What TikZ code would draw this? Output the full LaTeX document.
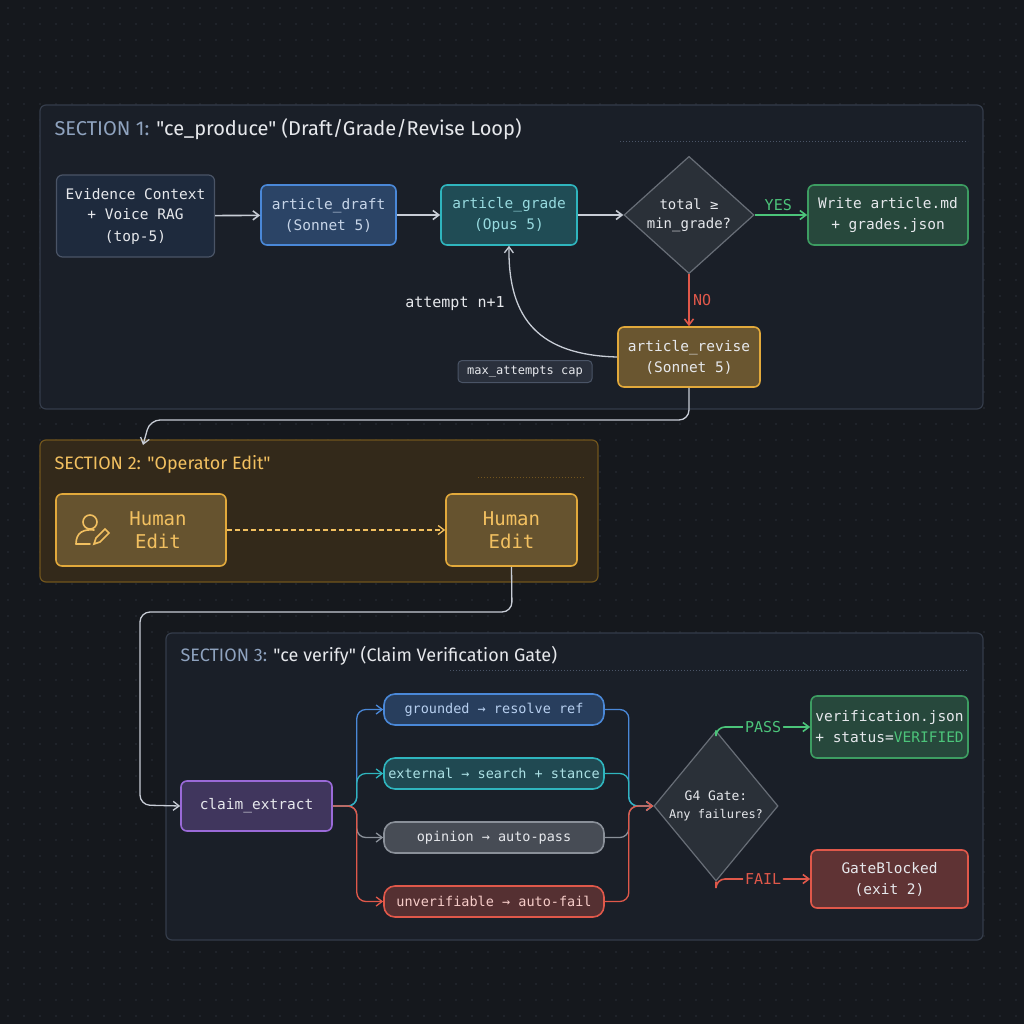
\documentclass[tikz,border=0pt]{standalone}
\usepackage{fontspec}
\setmainfont{Fira Sans}[Ligatures=TeXOff]
\newfontfamily\mono{DejaVu Sans Mono}
\usetikzlibrary{shapes.geometric,arrows.meta,calc}
\newcommand\dq{\char34{}}
\definecolor{bg}{HTML}{15181D}
\definecolor{dotc}{HTML}{2A2F38}
\definecolor{secf}{HTML}{1A1F28}
\definecolor{secb}{HTML}{343C4A}
\definecolor{secl}{HTML}{4A5466}
\definecolor{evf}{HTML}{1E2A3D}
\definecolor{diaf}{HTML}{2A3038}
\definecolor{txt}{HTML}{E6E8EC}
\definecolor{sect}{HTML}{8FA3BF}
\definecolor{arr}{HTML}{C8CDD6}
\definecolor{grn}{HTML}{4CC47A}
\definecolor{red}{HTML}{E0584A}
\definecolor{blu}{HTML}{4A88D8}
\definecolor{tea}{HTML}{2FB5BE}
\definecolor{gry}{HTML}{8A9099}
\definecolor{org}{HTML}{E2A93B}
\definecolor{ylw}{HTML}{F2C060}
\definecolor{pur}{HTML}{9A6AD8}
\definecolor{s2f}{HTML}{33291A}
\tikzset{
 x=1pt,y=-1pt,
 box/.style={draw,rounded corners=6pt,line width=1.6pt,text=txt,align=center,font=\mono\fontsize{14.5}{21}\selectfont,inner sep=0pt},
 pill/.style={draw,rounded corners=11pt,line width=1.6pt,align=center,font=\mono\fontsize{13.5}{16}\selectfont,minimum width=220pt,minimum height=31pt},
 dia/.style={diamond,draw=gry!70!secf,fill=diaf,line width=1.2pt,text=txt,align=center,font=\mono\fontsize{14}{19}\selectfont,inner sep=0pt},
 ar/.style={-{Straight Barb[length=6pt,width=9pt]},line width=1.6pt},
 sec/.style={draw=secb,fill=secf,rounded corners=6pt,line width=1.2pt},
 lab/.style={font=\mono\fontsize{15}{16}\selectfont},
}
\begin{document}
\begin{tikzpicture}
\fill[bg] (0,0) rectangle (1024,1024);
\useasboundingbox (0,0) rectangle (1024,1024);
\foreach \i in {8,24,...,1016}{\foreach \j in {8,24,...,1016}{\fill[dotc] (\i,\j) circle (0.9);}}
% sections
\draw[sec] (40,105) rectangle (983,409);
\node[anchor=west,font=\fontsize{20}{22}\selectfont] (t1) at (51,129) {\textcolor{sect}{SECTION 1:} \textcolor{txt}{\dq ce\_produce\dq{} (Draft/Grade/Revise Loop)}};
\draw[secl,dotted,line width=1pt] (620,142) -- (968,142);
\draw[draw=org!50!black,fill=s2f,rounded corners=6pt,line width=1.2pt] (40,440) rectangle (598,582);
\node[anchor=west,font=\fontsize{18}{20}\selectfont,text=ylw] (t2) at (51,464) {SECTION 2: \dq Operator Edit\dq};
\draw[org!50!black,dotted,line width=1pt] (478,477) -- (585,477);
\draw[sec] (166,633) rectangle (983,940);
\node[anchor=west,font=\fontsize{18}{20}\selectfont] (t3) at (177,656) {\textcolor{sect}{SECTION 3:} \textcolor{txt}{\dq ce verify\dq{} (Claim Verification Gate)}};
\draw[secl,dotted,line width=1pt] (450,670) -- (968,670);
% section 1 nodes
\node[box,draw=secl,fill=evf,minimum width=158pt,minimum height=82pt,line width=1.2pt] (ev) at (135.5,216) {Evidence Context\\+ Voice RAG\\(top-5)};
\node[box,draw=blu,fill=blu!35!secf,minimum width=135pt,minimum height=60pt,text=txt!80!blu] (dr) at (328.5,215) {article\_draft\\(Sonnet 5)};
\node[box,draw=tea,fill=tea!30!secf,minimum width=136pt,minimum height=60pt,text=tea!50!white] (gr) at (509,215) {article\_grade\\(Opus 5)};
\node[dia,minimum width=130pt,minimum height=114pt] (d1) at (689,215) {total ≥\\min\_grade?};
\node[box,draw=grn!80!black,fill=grn!25!secf,minimum width=160pt,minimum height=60pt] (wr) at (888,215) {Write article.md\\+ grades.json};
\node[box,draw=org,fill=org!40!secf,minimum width=142pt,minimum height=60pt] (rv) at (689,357) {article\_revise\\(Sonnet 5)};
\node[box,draw=secl,fill=secb!60!secf,rounded corners=4pt,line width=1pt,minimum width=134pt,minimum height=22pt,font=\mono\fontsize{12}{13}\selectfont] (cap) at (525,371.5) {max\_attempts cap};
\node[lab,text=txt] (att) at (455,304) {attempt n+1};
\draw[ar,arr] (ev) -- (dr);
\draw[ar,arr] (dr) -- (gr);
\draw[ar,arr] (gr) -- (d1);
\draw[ar,grn] (d1) -- node[above,lab,text=grn,pos=0.45] {YES} (wr);
\draw[ar,red] (d1) -- node[right,lab,text=red] {NO} (rv);
\draw[ar,arr,line width=1.3pt] (rv.west) .. controls (540,355) and (508,320) .. (gr.south);
\coordinate (c1) at (689,420);
\coordinate (c2) at (150,420);
\coordinate (c3) at (143,445);
\draw[ar,arr,line width=1.3pt,rounded corners=10pt] (rv.south) -- (c1) -- (c2) -- (c3);
% section 2
\node[box,draw=org,fill=org!38!secf,minimum width=170pt,minimum height=72pt,text=ylw,font=\mono\fontsize{19}{23}\selectfont] (h1) at (141,530) {\hspace{34pt}Human\\\hspace{34pt}Edit};
\begin{scope}[shift={(90,530)},draw=ylw,line width=1.6pt,line cap=round]
\draw (0,-8) circle (7);
\draw (-14,14) .. controls (-14,2) and (-6,-1) .. (4,0);
\draw (-14,14) -- (0,14);
\draw (4,14) -- (6,8) -- (15,-1) -- (19,3) -- (10,12) -- cycle;
\end{scope}
\node[box,draw=org,fill=org!38!secf,minimum width=131pt,minimum height=72pt,text=ylw,font=\mono\fontsize{19}{23}\selectfont] (h2) at (511.5,530) {Human\\Edit};
\draw[ar,ylw,dash pattern=on 5pt off 3pt,line width=1.3pt] (h1) -- (h2);
\coordinate (e1) at (512,612);
\coordinate (e2) at (140,612);
\coordinate (e3) at (140,805);
\node[box,draw=pur,fill=pur!30!secf,minimum width=151pt,minimum height=50pt] (ce) at (256.5,806) {claim\_extract};
\draw[ar,arr,line width=1.3pt,rounded corners=10pt] (h2.south) -- (e1) -- (e2) -- (e3) -- (ce.west);
% section 3 branches
\node[pill,draw=blu,fill=blu!30!secf,text=blu!40!white] (p1) at (494,709.5) {grounded → resolve ref};
\node[pill,draw=tea,fill=tea!28!secf,text=tea!40!white] (p2) at (494,773.5) {external → search + stance};
\node[pill,draw=gry,fill=gry!40!secf,text=txt] (p3) at (494,837.5) {opinion → auto-pass};
\node[pill,draw=red,fill=red!30!secf,text=red!30!white] (p4) at (494,901.5) {unverifiable → auto-fail};
\node[dia,minimum width=122pt,minimum height=150pt,font=\mono\fontsize{13}{18}\selectfont] (g4) at (716,806) {G4 Gate:\\{\fontsize{12}{14}\selectfont Any failures?}};
\foreach \p/\c in {p1/blu,p2/tea,p3/gry,p4/red}{
 \draw[ar,\c,line width=1.3pt,rounded corners=9pt] (ce.east) -- ++(24,0) |- (\p.west);
 \draw[ar,\c,line width=1.3pt,rounded corners=9pt] (\p.east) -- ++(24,0) |- (g4.west);
}
\node[box,draw=grn!80!black,fill=grn!25!secf,minimum width=157pt,minimum height=62pt] (vj) at (889.5,727) {verification.json\\+ status=\textcolor{grn}{VERIFIED}};
\node[box,draw=red,fill=red!35!secf,minimum width=157pt,minimum height=58pt] (gb) at (889.5,879) {GateBlocked\\(exit 2)};
\draw[ar,grn,rounded corners=9pt] (g4.north) |- node[pos=0.75,fill=secf,lab,text=grn,inner sep=2pt] {PASS} (vj.west);
\draw[ar,red,rounded corners=9pt] (g4.south) |- node[pos=0.75,fill=secf,lab,text=red,inner sep=2pt] {FAIL} (gb.west);
\end{tikzpicture}
\end{document}
